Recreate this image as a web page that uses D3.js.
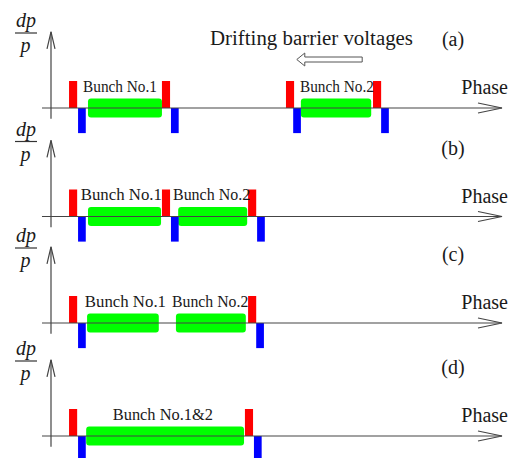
<!DOCTYPE html>
<html>
<head>
<meta charset="utf-8">
<script src="https://cdn.jsdelivr.net/npm/d3@7"></script>
<style>
  body { margin: 0; background: #fff; }
  text { font-family: "Liberation Serif", "Times New Roman", serif; fill: #1a1a1a; }
</style>
</head>
<body>
<div id="wrapper"></div>
<script>
// panel data (phase in arbitrary units 0..100, dp/p in arbitrary units)
const panelTags = ["(a)", "(b)", "(c)", "(d)"];
const redPulses = [[4.0, 24.6, 52.1, 71.4], [4.0, 24.6, 43.7], [4.0, 43.7], [4.0, 43.0]];
const bluePulses = [[6.0, 26.6, 53.7, 73.2], [6.0, 26.6, 45.7], [6.0, 45.5], [6.0, 45.0]];
const bunchStart = [[8.2, 55.4], [8.2, 28.2], [8.0, 27.7], [7.8]];
const bunchEnd = [[24.6, 71.0], [24.4, 43.5], [23.9, 43.2], [42.8]];
const bunchLabels = [["Bunch No.1", "Bunch No.2"], ["Bunch No.1", "Bunch No.2"], ["Bunch No.1", "Bunch No.2"], ["Bunch No.1&2"]];
const labelCenter = [[15.3, 63.4], [15.6, 35.6], [16.5, 35.3], [24.8]];
const labelWidth = [[16.4, 16.4], [18.0, 17.1], [18.0, 16.9], [22.2]];
const redHeight = 1.0, blueHeight = -0.93, bunchHalf = 0.35;
const driftFrom = 69.0, driftTo = 54.5;

// layout
const width = 528, height = 458;
const rowY = [108, 216.5, 323, 436];
const pulseW = 1.8;

const svg = d3.select("#wrapper")
  .append("svg")
    .attr("width", width)
    .attr("height", height);

const x = d3.scaleLinear().domain([0, 100]).range([51, 502]);
const y = d3.scaleLinear().domain([-1, 1]).range([27, -27]);
const axisColor = "#444";

panelTags.forEach(function(tag, i) {
  const g = svg.append("g").attr("transform", `translate(0,${rowY[i]})`);

  // bunches
  g.selectAll(".bunch")
    .data(bunchStart[i].map((s, j) => ({ s: s, e: bunchEnd[i][j] })))
    .join("rect")
      .attr("x", d => x(d.s))
      .attr("width", d => x(d.e) - x(d.s))
      .attr("y", y(bunchHalf))
      .attr("height", y(-bunchHalf) - y(bunchHalf))
      .attr("rx", 3)
      .attr("fill", "#00ff00");

  // barrier pulses
  g.selectAll(".red")
    .data(redPulses[i])
    .join("rect")
      .attr("x", d => x(d))
      .attr("width", x(pulseW) - x(0))
      .attr("y", y(redHeight))
      .attr("height", y(0) - y(redHeight))
      .attr("fill", "#ff0000");
  g.selectAll(".blue")
    .data(bluePulses[i])
    .join("rect")
      .attr("x", d => x(d))
      .attr("width", x(pulseW * 0.95) - x(0))
      .attr("y", y(0))
      .attr("height", y(blueHeight) - y(0))
      .attr("fill", "#0000ff");

  // axes
  g.append("line")
    .attr("x1", x(-2)).attr("x2", x(100))
    .attr("y1", y(0)).attr("y2", y(0))
    .attr("stroke", axisColor).attr("stroke-width", 1.2);
  g.append("path")
    .attr("d", `M${x(100) - 24},${y(0) - 5}L${x(100)},${y(0)}L${x(100) - 24},${y(0) + 5}`)
    .attr("fill", "none").attr("stroke", axisColor).attr("stroke-width", 1.2);
  g.append("line")
    .attr("x1", x(0)).attr("x2", x(0))
    .attr("y1", y(-0.4)).attr("y2", y(2.82))
    .attr("stroke", axisColor).attr("stroke-width", 1.2);
  g.append("path")
    .attr("d", `M${x(0) - 4},${y(2.82) + 17}L${x(0)},${y(2.82)}L${x(0) + 4},${y(2.82) + 17}`)
    .attr("fill", "none").attr("stroke", axisColor).attr("stroke-width", 1.2);

  // dp/p label
  g.append("text")
    .attr("x", 26).attr("y", -81)
    .attr("text-anchor", "middle")
    .style("font-style", "italic").style("font-size", "20px")
    .text("dp");
  g.append("line")
    .attr("x1", 15).attr("x2", 37).attr("y1", -75).attr("y2", -75)
    .attr("stroke", "#333").attr("stroke-width", 1.2);
  g.append("text")
    .attr("x", 25.5).attr("y", -56)
    .attr("text-anchor", "middle")
    .style("font-style", "italic").style("font-size", "20px")
    .text("p");

  g.append("text")
    .attr("x", 508).attr("y", -14)
    .attr("text-anchor", "end")
    .style("font-size", "20px")
    .text("Phase");

  g.append("text")
    .attr("x", 453).attr("y", -62)
    .attr("text-anchor", "middle")
    .style("font-size", "20px")
    .text(tag);

  // bunch labels
  g.selectAll(".lab")
    .data(bunchLabels[i].map((t, j) => ({ t: t, c: labelCenter[i][j], w: labelWidth[i][j] })))
    .join("text")
      .attr("x", d => x(d.c - d.w / 2))
      .attr("y", -16.5)
      .attr("textLength", d => x(d.w) - x(0))
      .attr("lengthAdjust", "spacingAndGlyphs")
      .style("font-size", "16px")
      .text(d => d.t);
});

// drifting barrier annotation (panel a)
svg.append("text")
  .attr("x", 210).attr("y", 45)
  .attr("textLength", 203)
  .attr("lengthAdjust", "spacingAndGlyphs")
  .style("font-size", "20.5px")
  .text("Drifting barrier voltages");

const ay = 59.5;
svg.append("path")
  .attr("d", `M${x(driftTo)},${ay}L${x(driftTo) + 8},${ay - 6.5}L${x(driftTo) + 8},${ay - 2.5}` +
             `L${x(driftFrom)},${ay - 2.5}L${x(driftFrom)},${ay + 2.5}L${x(driftTo) + 8},${ay + 2.5}` +
             `L${x(driftTo) + 8},${ay + 6.5}Z`)
  .attr("fill", "#fff").attr("stroke", "#555").attr("stroke-width", 1);
</script>
</body>
</html>
